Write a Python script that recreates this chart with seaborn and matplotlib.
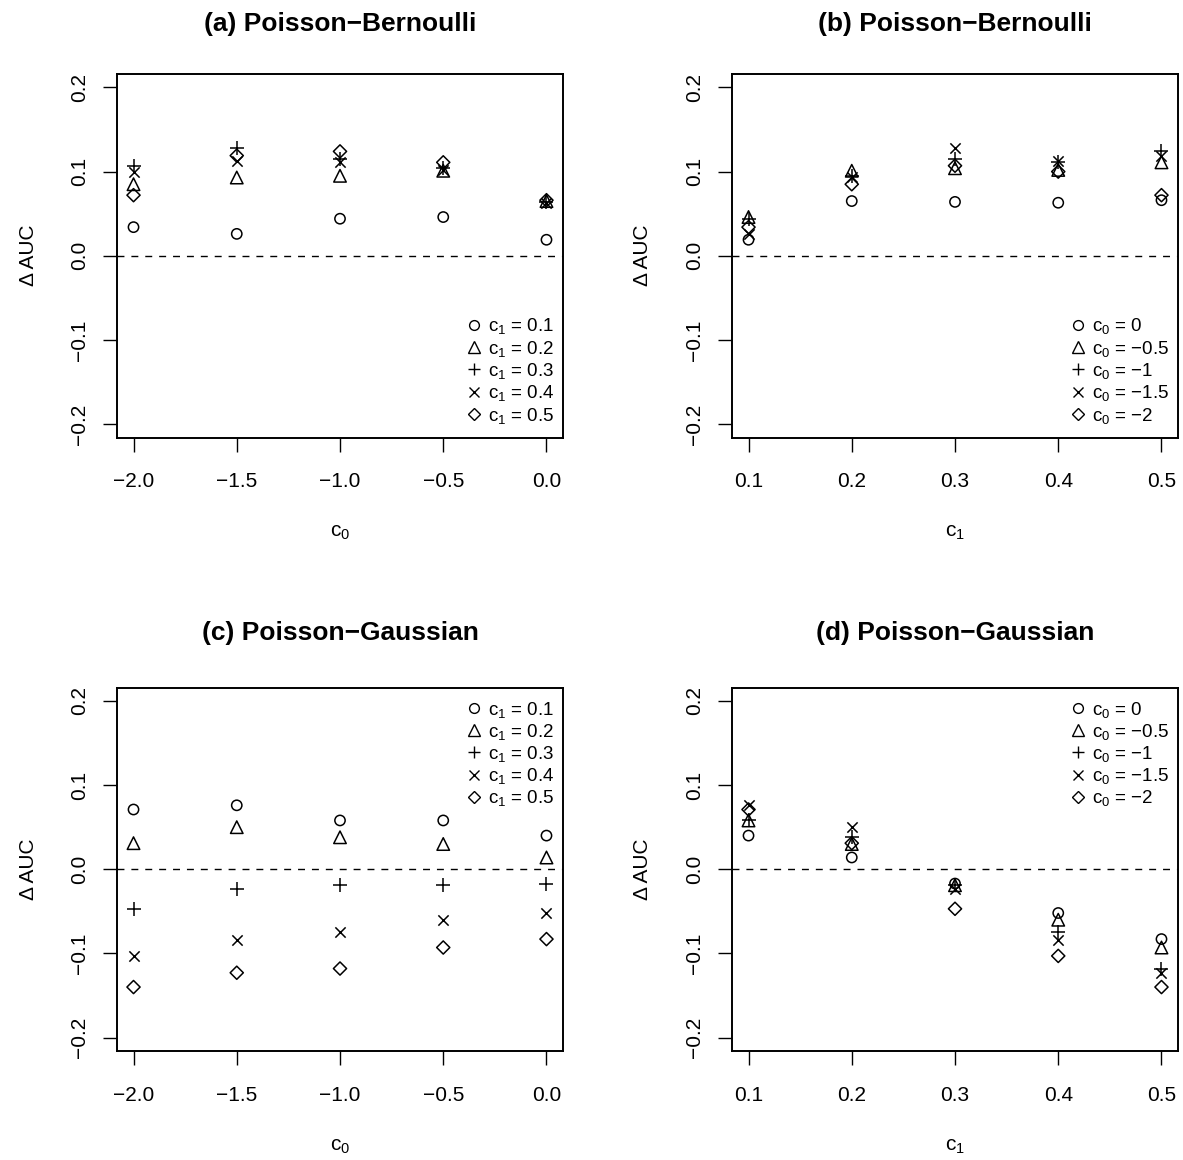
import numpy as np
import pandas as pd
import matplotlib
matplotlib.use("Agg")
import matplotlib.pyplot as plt
import seaborn as sns
from matplotlib.lines import Line2D

# ---------------- data ----------------
c0_values = [-2.0, -1.5, -1.0, -0.5, 0.0]
c1_values = [0.1, 0.2, 0.3, 0.4, 0.5]

# Poisson-Bernoulli: Delta AUC, one list per c0, entries over c1 = 0.1 ... 0.5
pb_c0_m2 = [0.034, 0.085, 0.107, 0.100, 0.072]
pb_c0_m1_5 = [0.026, 0.093, 0.128, 0.113, 0.119]
pb_c0_m1 = [0.044, 0.095, 0.115, 0.112, 0.124]
pb_c0_m0_5 = [0.046, 0.101, 0.104, 0.102, 0.111]
pb_c0_0 = [0.019, 0.065, 0.064, 0.063, 0.066]

# Poisson-Gaussian: Delta AUC, one list per c0, entries over c1 = 0.1 ... 0.5
pg_c0_m2 = [0.071, 0.031, -0.047, -0.103, -0.140]
pg_c0_m1_5 = [0.076, 0.050, -0.024, -0.084, -0.123]
pg_c0_m1 = [0.058, 0.038, -0.019, -0.075, -0.118]
pg_c0_m0_5 = [0.058, 0.030, -0.019, -0.060, -0.093]
pg_c0_0 = [0.040, 0.014, -0.017, -0.052, -0.083]

titles = ["(a) Poisson\u2212Bernoulli", "(b) Poisson\u2212Bernoulli",
          "(c) Poisson\u2212Gaussian", "(d) Poisson\u2212Gaussian"]
c1_legend = ["0.1", "0.2", "0.3", "0.4", "0.5"]
c0_legend_order = [0.0, -0.5, -1.0, -1.5, -2.0]
c0_legend = ["0", "\u22120.5", "\u22121", "\u22121.5", "\u22122"]
y_ticks = [-0.2, -0.1, 0.0, 0.1, 0.2]

# long tables
rows = []
for fam, lists in (("PB", [pb_c0_m2, pb_c0_m1_5, pb_c0_m1, pb_c0_m0_5, pb_c0_0]),
                   ("PG", [pg_c0_m2, pg_c0_m1_5, pg_c0_m1, pg_c0_m0_5, pg_c0_0])):
    for c0, vals in zip(c0_values, lists):
        for c1, v in zip(c1_values, vals):
            rows.append({"family": fam, "c0": c0, "c1": c1, "dauc": v})
df = pd.DataFrame(rows)

# ---------------- style ----------------
sns.set_theme(style="white")
plt.rcParams["font.family"] = ["Liberation Sans", "DejaVu Sans"]
plt.rcParams["mathtext.default"] = "regular"
plt.rcParams["axes.unicode_minus"] = True
plt.rcParams["text.color"] = "black"
plt.rcParams["axes.labelcolor"] = "black"
plt.rcParams["xtick.color"] = "black"
plt.rcParams["ytick.color"] = "black"

markers = ["o", "^", "+", "x", "D"]
msize = {"o": 7.4, "^": 9.0, "+": 9.4, "x": 7.4, "D": 6.7}
open_m = {"o", "^", "D"}

W, H = 1183, 1160
fig = plt.figure(figsize=(W / 100, H / 100), dpi=100)
fig.patch.set_facecolor("white")

lefts = [117, 732]
tops = [74, 687.5]
bw, bh = 446, 363.5
title_off = [50, 54.5]

TICK_FS = 15
TITLE_FS = 19
LEG_FS = 13.5


def draw_series(ax, x, y, m):
    kw = dict(marker=m, s=msize[m] ** 2, linewidth=1.1, ax=ax, legend=False, zorder=3)
    if m in open_m:
        sns.scatterplot(x=x, y=y, facecolors="none", edgecolor="black", **kw)
    else:
        sns.scatterplot(x=x, y=y, color="black", **kw)


panels = [
    (0, 0, "PB", "c0"),
    (0, 1, "PB", "c1"),
    (1, 0, "PG", "c0"),
    (1, 1, "PG", "c1"),
]

for idx, (r, c, fam, xvar) in enumerate(panels):
    l, t = lefts[c], tops[r]
    ax = fig.add_axes([l / W, 1 - (t + bh) / H, bw / W, bh / H])
    sub = df[df["family"] == fam]
    if xvar == "c0":
        levels = c1_values
        for lev, m in zip(levels, markers):
            d = sub[np.isclose(sub["c1"], lev)].sort_values("c0")
            draw_series(ax, d["c0"].to_numpy(), d["dauc"].to_numpy(), m)
        labels = [r"$c_1$ = " + s for s in c1_legend]
        ax.set_xlim(-2.08, 0.08)
        ax.set_xticks(c0_values)
        ax.set_xlabel(r"$c_0$", fontsize=TICK_FS, va="center", color="black")
    else:
        levels = c0_legend_order
        for lev, m in zip(levels, markers):
            d = sub[np.isclose(sub["c0"], lev)].sort_values("c1")
            draw_series(ax, d["c1"].to_numpy(), d["dauc"].to_numpy(), m)
        labels = [r"$c_0$ = " + s for s in c0_legend]
        ax.set_xlim(0.084, 0.516)
        ax.set_xticks(c1_values)
        ax.set_xlabel(r"$c_1$", fontsize=TICK_FS, va="center", color="black")

    ax.axhline(0, color="black", lw=1.0, ls=(0, (5, 5)), zorder=2)
    ax.set_ylim(-0.216, 0.216)
    ax.set_yticks(y_ticks)
    ax.set_ylabel("\u0394 AUC", fontsize=TICK_FS, va="center", color="black")
    ax.xaxis.set_label_coords(0.5, -(533 - 437.5) / bh)
    ax.yaxis.set_label_coords(-(117 - 28) / bw, 0.5)

    for sp in ax.spines.values():
        sp.set_visible(True)
        sp.set_color("black")
        sp.set_linewidth(1.4)
    ax.tick_params(axis="both", which="major", direction="out", length=10,
                   width=1.0, color="black", labelsize=TICK_FS, labelcolor="black",
                   bottom=True, left=True)
    ax.tick_params(axis="x", pad=15)
    ax.tick_params(axis="y", pad=10, labelrotation=90)
    for lab in ax.get_yticklabels():
        lab.set_va("center")
    ax.grid(False)
    ax.set_facecolor("white")

    ax.set_title(titles[idx], fontsize=TITLE_FS, fontweight="bold", color="black",
                 y=1 + title_off[r] / bh, va="center", pad=0)

    handles = []
    for m in markers:
        handles.append(Line2D([], [], ls="none", marker=m, color="black",
                              mfc="none", mec="black", mew=1.0,
                              ms=msize[m] * 0.95))
    common = dict(frameon=False, fontsize=LEG_FS, borderpad=0, borderaxespad=0,
                  labelspacing=0.12, handlelength=0.9, handletextpad=0.3,
                  labelcolor="black")
    if r == 0:
        ax.legend(handles, labels, loc="lower right",
                  bbox_to_anchor=(1 - 9 / bw, 12 / bh), **common)
    else:
        ax.legend(handles, labels, loc="upper right",
                  bbox_to_anchor=(1 - 9 / bw, 1 - 12 / bh), **common)

fig.savefig("out.png", dpi=100, facecolor="white")
